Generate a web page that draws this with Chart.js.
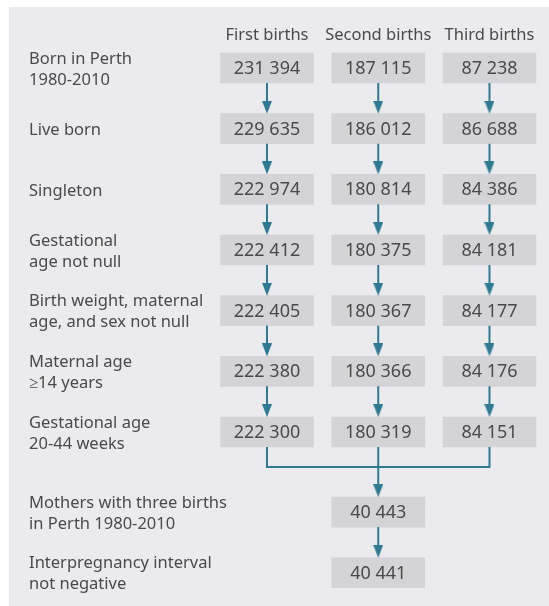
<!DOCTYPE html>
<html>
<head>
<meta charset="utf-8">
<script src="https://cdn.jsdelivr.net/npm/chart.js@4"></script>
<style>
  html, body { margin:0; padding:0; background:#fff; }
  #wrap { position:relative; width:549px; height:606px; }
</style>
</head>
<body>
<div id="wrap"><canvas id="flow"></canvas></div>
<script>
// --- data ---
const columns = ['First births', 'Second births', 'Third births'];
const stepLabels = [
  ['Born in Perth', '1980-2010'],
  ['Live born'],
  ['Singleton'],
  ['Gestational', 'age not null'],
  ['Birth weight, maternal', 'age, and sex not null'],
  ['Maternal age', '\u226514 years'],
  ['Gestational age', '20-44 weeks']
];
const firstBirths  = [231394, 229635, 222974, 222412, 222405, 222380, 222300];
const secondBirths = [187115, 186012, 180814, 180375, 180367, 180366, 180319];
const thirdBirths  = [87238, 86688, 84386, 84181, 84177, 84176, 84151];
const linkedLabels = [
  ['Mothers with three births', 'in Perth 1980-2010'],
  ['Interpregnancy interval', 'not negative']
];
const linkedCounts = [40443, 40441];

// --- layout helpers (value units of the hidden scales) ---
const byColumn = [firstBirths, secondBirths, thirdBirths];
const nSteps = stepLabels.length;
const rowY = i => i < nSteps ? i : i + 0.32;   // extra gap after the merge
const HALF = 0.247;                            // half box height
const MERGE_Y = 6.577;
const HEAD = 0.107;                            // half arrow head height
const LABEL_X = -2.139;
const HEADER_Y = -0.545;
const arrowColor = '#2e7a93';
const textColor = '#4a4a4c';

const fmt = n => String(n).replace(/\B(?=(\d{3})+(?!\d))/g, ' ');

// arrow head image
const head = document.createElement('canvas');
head.width = 10; head.height = 13;
(() => {
  const c = head.getContext('2d');
  c.fillStyle = arrowColor;
  c.beginPath(); c.moveTo(0, 0); c.lineTo(10, 0); c.lineTo(5, 13); c.closePath(); c.fill();
})();

// boxes
const boxData = [];
byColumn.forEach((vals, c) => vals.forEach((v, i) => boxData.push({ x: c, y: [rowY(i) - HALF, rowY(i) + HALF], n: v })));
linkedCounts.forEach((v, k) => { const i = nSteps + k; boxData.push({ x: 1, y: [rowY(i) - HALF, rowY(i) + HALF], n: v }); });

// arrows: shafts + heads
const shafts = [];
const heads = [];
byColumn.forEach((vals, c) => {
  for (let i = 0; i < vals.length - 1; i++) {
    shafts.push({ x: c, y: rowY(i) + HALF }, { x: c, y: rowY(i + 1) - HALF - HEAD }, { x: c, y: null });
    heads.push({ x: c, y: rowY(i + 1) - HALF - HEAD });
  }
});
const last = nSteps - 1;
// merge connector
const merge = [
  { x: 0, y: rowY(last) + HALF }, { x: 0, y: MERGE_Y }, { x: 2, y: MERGE_Y }, { x: 2, y: rowY(last) + HALF }
];
shafts.push({ x: 1, y: rowY(last) + HALF }, { x: 1, y: rowY(nSteps) - HALF - HEAD }, { x: 1, y: null });
heads.push({ x: 1, y: rowY(nSteps) - HALF - HEAD });
for (let k = 0; k < linkedCounts.length - 1; k++) {
  const i = nSteps + k;
  shafts.push({ x: 1, y: rowY(i) + HALF }, { x: 1, y: rowY(i + 1) - HALF - HEAD }, { x: 1, y: null });
  heads.push({ x: 1, y: rowY(i + 1) - HALF - HEAD });
}

const panelPlugin = {
  id: 'panel',
  beforeDraw(chart) {
    const { ctx, width, height } = chart;
    ctx.save();
    ctx.fillStyle = '#ebebed';
    ctx.fillRect(9, 7, width - 9, height - 7);
    ctx.restore();
  }
};

const textPlugin = {
  id: 'texts',
  afterDraw(chart) {
    const { ctx, scales: { x, y } } = chart;
    ctx.save();
    ctx.fillStyle = textColor;
    ctx.textBaseline = 'middle';
    // headers
    ctx.font = '16.5px "Noto Sans"';
    ctx.textAlign = 'center';
    columns.forEach((c, i) => ctx.fillText(c, x.getPixelForValue(i), y.getPixelForValue(HEADER_Y)));
    // row labels
    ctx.textAlign = 'left';
    stepLabels.concat(linkedLabels).forEach((lines, i) => {
      const cy = y.getPixelForValue(rowY(i)) + 1.5;
      lines.forEach((t, j) => ctx.fillText(t, x.getPixelForValue(LABEL_X), cy + (j - (lines.length - 1) / 2) * 21));
    });
    // counts
    ctx.font = '18px "Noto Sans"';
    ctx.textAlign = 'center';
    boxData.forEach(b => ctx.fillText(fmt(b.n), x.getPixelForValue(b.x), y.getPixelForValue((b.y[0] + b.y[1]) / 2) + 1));
    ctx.restore();
  }
};

new Chart(document.getElementById('flow'), {
  type: 'bar',
  data: {
    datasets: [
      { type: 'bar', data: boxData, backgroundColor: '#d4d4d6', barThickness: 93, order: 3 },
      { type: 'line', data: shafts, borderColor: arrowColor, borderWidth: 2, pointRadius: 0, spanGaps: false, tension: 0, order: 2 },
      { type: 'line', data: merge, borderColor: arrowColor, borderWidth: 2, pointRadius: 0, tension: 0, order: 2 },
      { type: 'scatter', data: heads, pointStyle: head, pointRadius: 6, showLine: false, order: 1 }
    ]
  },
  options: {
    responsive: true, maintainAspectRatio: false, animation: false,
    layout: { padding: 0, autoPadding: false },
    plugins: { legend: { display: false }, tooltip: { enabled: false } },
    scales: {
      x: { type: 'linear', display: false, offset: false, min: -2.4, max: 2.535 },
      y: { type: 'linear', display: false, offset: false, reverse: true, min: -1.121, max: 8.868 }
    }
  },
  plugins: [panelPlugin, textPlugin]
});
</script>
</body>
</html>
